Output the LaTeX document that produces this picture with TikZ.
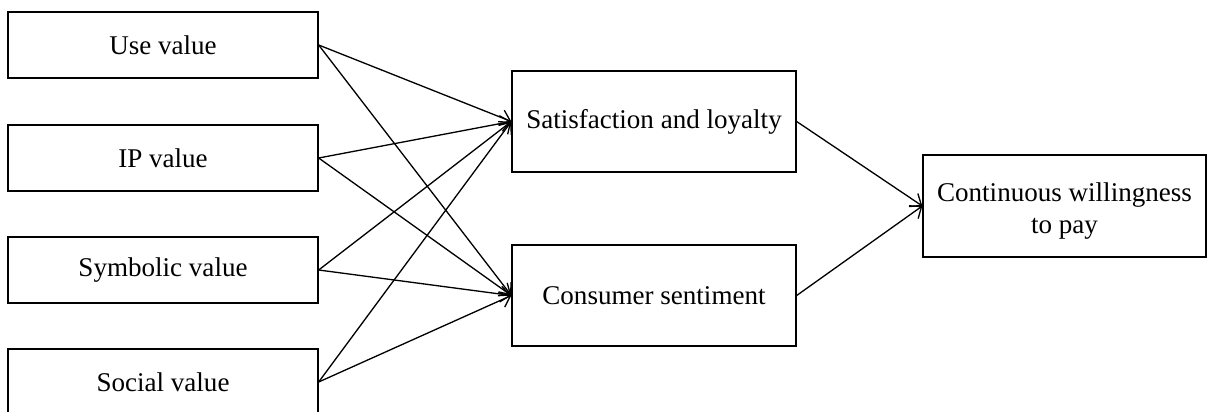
\documentclass[tikz,border=0pt]{standalone}
\usepackage{fontspec}
\setmainfont{Liberation Serif}
\usetikzlibrary{arrows.meta}

\begin{document}
\begin{tikzpicture}[x=0.02cm,y=-0.02cm]
\tikzset{box/.style = {draw, line width=0.8pt, inner sep=0pt, align=center, font=\fontsize{15.4pt}{18.3pt}\selectfont},
  valuebox/.style = {box, minimum width=6.2cm, minimum height=1.32cm},
  midbox/.style = {box, minimum width=5.68cm, minimum height=2.02cm},
  link/.style = {line width=0.75pt, -{Straight Barb[length=5.5pt,width=9pt]}}}
\useasboundingbox (0,0) rectangle (1207,412);
   \node[valuebox] (use) at (163,45) {Use value};
   \node[valuebox] (ip) at (163,158) {IP value};
   \node[valuebox] (sym) at (163,270) {Symbolic value};
   \node[valuebox] (soc) at (163,382) {Social value};
   \node[midbox] (sat) at (654,121.5) {Satisfaction and loyalty};
   \node[midbox] (sen) at (654,295.5) {Consumer sentiment};
   \node[box, minimum width=5.66cm, minimum height=2.04cm] (pay) at (1064.5,206) {\rule{0pt}{16.5pt}Continuous willingness\\to pay};
   \foreach \v in {use,ip,sym,soc}{
      \draw[link] (\v.east) -- (sat.west);
      \draw[link] (\v.east) -- (sen.west);
   }
   \draw[link] (sat.east) -- (pay.west);
   \draw[link] (sen.east) -- (pay.west);
\end{tikzpicture}
\end{document}
